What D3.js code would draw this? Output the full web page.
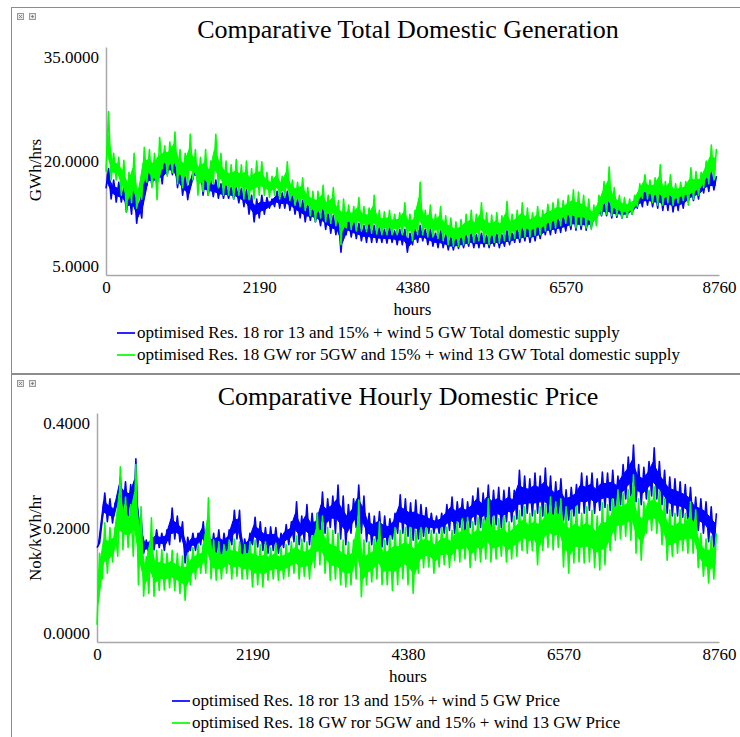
<!DOCTYPE html>
<html>
<head>
<meta charset="utf-8">
<script src="https://cdn.jsdelivr.net/npm/d3@7"></script>
<style>
  html, body { margin: 0; padding: 0; background: #fff; }
  svg { display: block; }
  text { font-family: "Liberation Serif", "Times New Roman", serif; fill: #000; }
</style>
</head>
<body>
<svg id="chart" width="740" height="737"></svg>
<script>
// The year is split into 120 windows of 73 hours; each series keeps the
// lowest and highest hourly value reached inside every window.
const windowHours = 73;
const xTicks = [0, 2190, 4380, 6570, 8760];

// Total domestic generation, GWh/hrs
const genTicks = [5, 20, 35];
const genLabels = ["5.0000", "20.0000", "35.0000"];

const genWind5High = [
  19.0,17.5,17.2,16.5,16.0,17.5,14.5,18.0,19.0,18.8, 20.0,20.5,20.4,20.0,19.0,18.0,17.5,19.9,19.5,18.2,
  17.5,17.5,17.0,16.8,16.5,16.5,16.4,16.2,15.5,15.0, 15.5,15.2,15.0,16.0,15.8,16.0,15.5,15.0,14.8,14.5,
  14.0,13.5,13.8,13.2,12.8,12.5,12.0,12.5,12.0,11.8, 11.5,11.8,11.5,11.2,11.0,11.2,10.8,11.0,11.0,10.5,
  11.0,11.5,11.0,11.0,10.5,10.8,10.3,10.0,10.0,10.0, 10.2,10.5,10.3,10.5,10.2,10.3,10.5,10.3,10.8,10.5,
  11.0,11.2,11.5,11.5,11.8,11.8,12.2,12.5,12.5,12.8, 13.0,13.5,13.5,13.2,13.0,13.5,14.2,14.5,14.8,14.5,
  14.2,14.0,14.5,14.8,15.5,16.5,16.2,16.0,16.5,16.0, 16.2,15.8,16.0,16.2,16.5,17.0,17.5,18.2,18.6,18.0
];
const genWind5Low = [
  16.4,15.0,14.6,14.6,13.3,13.0,11.8,12.5,16.8,16.8, 16.8,17.0,18.2,18.2,16.5,15.5,14.9,17.5,17.0,15.5,
  15.5,15.3,15.1,15.1,15.1,15.0,14.5,14.0,13.0,12.0, 12.5,13.0,13.8,14.0,13.8,13.8,13.5,13.0,12.5,12.0,
  12.2,12.0,11.5,11.0,10.5,10.3,8.0,10.3,10.0,9.8, 9.5,9.3,9.3,9.3,9.3,9.2,9.3,9.0,9.0,8.0,
  9.0,9.3,9.5,9.0,8.8,8.6,8.6,8.3,8.3,8.5, 8.6,8.8,8.6,8.6,8.7,8.6,8.8,8.6,8.8,9.0,
  9.3,9.3,9.5,9.3,9.5,9.8,10.3,10.3,10.5,10.6, 10.8,11.0,10.9,11.0,10.9,11.2,12.5,12.8,12.8,12.5,
  12.6,12.5,12.6,13.0,13.8,14.0,14.2,14.0,13.8,13.5, 13.5,13.3,13.5,13.8,14.6,14.8,15.0,15.8,16.0,16.2
];
const genWind13High = [
  26.5,21.0,20.5,20.1,18.5,21.0,16.5,21.8,21.5,21.0, 23.1,22.0,22.5,23.8,21.5,21.0,23.5,21.5,20.5,21.5,
  20.0,23.5,21.0,20.0,19.5,20.2,19.5,20.0,19.0,20.0, 19.9,18.5,18.0,19.1,18.0,19.9,17.5,17.2,17.8,16.5,
  16.0,16.0,16.8,15.5,16.5,14.8,15.0,14.2,14.0,15.2, 14.0,13.8,15.5,13.5,13.3,13.5,13.0,13.2,14.5,13.0,
  13.5,17.2,13.5,14.2,13.0,14.0,12.8,12.5,12.0,12.3, 13.0,13.5,13.0,14.5,13.2,12.9,13.2,12.8,14.7,13.0,
  13.5,14.5,13.8,13.2,14.0,13.5,14.3,14.5,15.0,14.8, 15.5,16.2,15.9,15.5,15.0,14.2,15.5,17.3,19.2,16.5,
  15.5,15.2,15.0,15.5,17.0,18.2,17.5,17.8,19.5,17.3, 18.2,17.0,17.2,17.3,19.1,18.6,18.5,20.0,22.1,21.6
];
const genWind13Low = [
  18.6,17.5,17.5,15.5,13.3,14.5,13.8,15.0,17.2,16.5, 14.9,19.0,18.0,18.5,17.0,16.5,16.8,17.5,15.5,16.0,
  15.5,17.0,16.5,15.5,15.5,15.0,15.5,15.0,14.9,15.0, 15.5,15.5,15.2,15.5,15.0,15.2,14.8,14.2,14.0,13.5,
  12.8,12.0,12.5,12.0,11.8,11.5,9.0,11.2,11.0,10.8, 10.8,10.7,10.5,10.4,10.3,10.3,10.3,10.3,10.3,10.0,
  9.5,10.3,10.3,10.0,10.0,9.8,9.5,9.0,8.8,8.8, 9.0,9.2,9.3,9.5,9.3,9.0,9.3,9.2,9.5,9.5,
  9.8,9.8,10.0,10.0,10.2,10.3,10.8,11.0,11.2,11.5, 11.8,11.5,11.2,11.5,11.2,11.0,11.5,12.9,13.0,12.8,
  12.8,12.5,12.6,13.0,14.0,15.1,15.0,14.5,14.2,14.2, 14.5,14.2,14.5,14.8,14.2,15.0,15.5,16.5,17.0,17.5
];

// Hourly domestic price, Nok/kWh/hr
const priceTicks = [0, 0.2, 0.4];
const priceLabels = ["0.0000", "0.2000", "0.4000"];

const priceWind5High = [
  0.173,0.26,0.25,0.243,0.288,0.28,0.275,0.32,0.22,0.178, 0.185,0.196,0.19,0.196,0.234,0.22,0.21,0.183,0.19,0.19,
  0.21,0.196,0.19,0.196,0.19,0.196,0.23,0.23,0.18,0.19, 0.218,0.21,0.2,0.201,0.2,0.19,0.205,0.21,0.245,0.22,
  0.24,0.225,0.225,0.262,0.25,0.255,0.274,0.255,0.24,0.25, 0.274,0.255,0.225,0.22,0.228,0.22,0.215,0.225,0.257,0.25,
  0.243,0.248,0.24,0.235,0.225,0.22,0.225,0.24,0.253,0.245, 0.25,0.245,0.255,0.269,0.26,0.274,0.265,0.27,0.265,0.27,
  0.265,0.3,0.29,0.285,0.295,0.29,0.304,0.29,0.28,0.285, 0.266,0.27,0.275,0.295,0.29,0.295,0.285,0.297,0.295,0.3,
  0.29,0.31,0.323,0.344,0.31,0.305,0.315,0.339,0.315,0.3, 0.288,0.285,0.28,0.275,0.27,0.253,0.25,0.245,0.236,0.225
];
const priceWind5Low = [
  0.165,0.213,0.21,0.208,0.24,0.225,0.22,0.2,0.17,0.155, 0.155,0.161,0.165,0.16,0.17,0.18,0.175,0.138,0.16,0.16,
  0.17,0.155,0.15,0.152,0.149,0.155,0.17,0.18,0.14,0.15, 0.17,0.166,0.16,0.155,0.16,0.155,0.165,0.17,0.175,0.17,
  0.175,0.17,0.175,0.19,0.19,0.2,0.19,0.18,0.17,0.19, 0.2,0.19,0.175,0.17,0.17,0.166,0.17,0.18,0.19,0.19,
  0.185,0.178,0.18,0.185,0.19,0.19,0.19,0.19,0.195,0.19, 0.2,0.195,0.2,0.205,0.2,0.205,0.2,0.205,0.2,0.21,
  0.21,0.215,0.22,0.225,0.22,0.225,0.22,0.22,0.215,0.22, 0.213,0.213,0.22,0.225,0.225,0.23,0.225,0.23,0.235,0.23,
  0.235,0.24,0.25,0.255,0.245,0.24,0.25,0.255,0.25,0.24, 0.225,0.22,0.22,0.218,0.21,0.2,0.195,0.19,0.175,0.166
];
const priceWind13High = [
  0.155,0.208,0.2,0.2,0.306,0.253,0.24,0.31,0.236,0.149, 0.217,0.16,0.161,0.155,0.16,0.155,0.15,0.155,0.165,0.17,
  0.17,0.252,0.178,0.175,0.17,0.178,0.18,0.175,0.17,0.175, 0.178,0.17,0.175,0.165,0.173,0.165,0.17,0.175,0.185,0.18,
  0.175,0.185,0.225,0.22,0.2,0.195,0.19,0.178,0.175,0.178, 0.248,0.178,0.175,0.18,0.21,0.178,0.185,0.2,0.195,0.2,
  0.2,0.195,0.2,0.2,0.195,0.19,0.2,0.201,0.195,0.21, 0.215,0.218,0.21,0.218,0.215,0.25,0.22,0.215,0.22,0.21,
  0.22,0.23,0.236,0.225,0.23,0.236,0.24,0.253,0.245,0.25, 0.236,0.23,0.236,0.225,0.236,0.23,0.22,0.243,0.24,0.25,
  0.266,0.26,0.266,0.292,0.25,0.245,0.265,0.271,0.265,0.25, 0.231,0.225,0.231,0.225,0.245,0.231,0.19,0.18,0.185,0.19
];
const priceWind13Low = [
  0.03,0.11,0.12,0.14,0.15,0.161,0.165,0.15,0.1,0.08, 0.085,0.08,0.09,0.091,0.095,0.09,0.085,0.073,0.1,0.11,
  0.12,0.12,0.11,0.108,0.11,0.12,0.11,0.115,0.11,0.11, 0.096,0.1,0.096,0.108,0.11,0.108,0.11,0.115,0.12,0.11,
  0.115,0.11,0.13,0.135,0.12,0.108,0.11,0.1,0.096,0.1, 0.11,0.079,0.1,0.105,0.11,0.1,0.1,0.09,0.1,0.11,
  0.1,0.085,0.12,0.13,0.131,0.12,0.131,0.135,0.13,0.143, 0.14,0.145,0.13,0.143,0.14,0.145,0.14,0.145,0.15,0.14,
  0.145,0.15,0.16,0.155,0.16,0.135,0.16,0.165,0.161,0.165, 0.131,0.12,0.138,0.14,0.138,0.14,0.13,0.126,0.135,0.16,
  0.178,0.18,0.185,0.178,0.155,0.143,0.19,0.195,0.19,0.17, 0.143,0.15,0.155,0.16,0.155,0.155,0.13,0.115,0.103,0.11
];

const blue = "#0000ff", green = "#00ff00", axisGrey = "#a8a8a8", frameGrey = "#8c8c8c";
const svg = d3.select("#chart");

// Each window is traced from its low up to its high, so the line sweeps the
// full hourly range the way a dense hourly trace does.
function sweep(low, high) {
  const pts = [];
  low.forEach((lo, k) => {
    pts.push([k * windowHours, lo]);
    pts.push([k * windowHours + windowHours / 2, high[k]]);
  });
  return pts;
}

function panel(cfg) {
  const g = svg.append("g");
  // frame and the two small window buttons
  g.append("rect").attr("x", 11.5).attr("y", cfg.top + 0.5).attr("width", 740).attr("height", cfg.frameH)
    .attr("fill", "none").attr("stroke", frameGrey);
  [17, 29].forEach((bx, k) => {
    g.append("rect").attr("x", bx + 0.5).attr("y", cfg.top + 6.5).attr("width", 6).attr("height", 6)
      .attr("fill", "#e6e6e6").attr("stroke", "#9a9a9a");
    g.append("path").attr("d", k === 0
        ? `M${bx + 2},${cfg.top + 8}L${bx + 5},${cfg.top + 11}M${bx + 5},${cfg.top + 8}L${bx + 2},${cfg.top + 11}`
        : `M${bx + 2},${cfg.top + 9.5}L${bx + 5},${cfg.top + 9.5}M${bx + 3.5},${cfg.top + 8}L${bx + 3.5},${cfg.top + 11}`)
      .attr("stroke", "#777").attr("stroke-width", 0.8);
  });

  g.append("text").attr("x", 408).attr("y", cfg.titleY).attr("text-anchor", "middle")
    .attr("font-size", 26).text(cfg.title);

  const x = d3.scaleLinear().domain([0, 8760]).range([cfg.x0, cfg.x1]);
  const y = d3.scaleLinear().domain(cfg.yDomain).range([cfg.y1, cfg.y0]);

  // axes: plain grey lines, no tick marks
  const xAxis = d3.axisBottom(x).tickValues(xTicks).tickSize(0).tickPadding(0).tickFormat(d3.format("d"));
  const xg = g.append("g").attr("transform", `translate(0,${cfg.y1})`).call(xAxis);
  xg.select(".domain").attr("stroke", axisGrey).attr("stroke-width", 1.5);
  xg.selectAll("text").attr("font-size", 17).attr("dy", null).attr("y", 18)
    .attr("font-family", "Liberation Serif").attr("fill", "#000");

  const yAxis = d3.axisLeft(y).tickValues(cfg.yTicks).tickSize(0).tickPadding(0)
    .tickFormat((d, i) => cfg.yLabels[i]);
  const yg = g.append("g").attr("transform", `translate(${cfg.x0},0)`).call(yAxis);
  yg.select(".domain").attr("stroke", axisGrey).attr("stroke-width", 1.5);
  yg.selectAll("text").attr("font-size", 17).attr("font-family", "Liberation Serif").attr("fill", "#000")
    .attr("x", -7)
    .attr("dy", (d, i) => i === 0 ? "-0.2em" : (i === cfg.yTicks.length - 1 ? "0.9em" : "0.35em"));

  g.append("text").attr("transform", `translate(${cfg.yTitleX},${cfg.yTitleY}) rotate(-90)`)
    .attr("text-anchor", "middle").attr("font-size", 17).text(cfg.yTitle);
  g.append("text").attr("x", x(4380)).attr("y", cfg.y1 + 40).attr("text-anchor", "middle")
    .attr("font-size", 17).text("hours");

  // the trace crosses the middle of each window's range many times within a
  // window, so that part is filled solid; the sweep line carries the extremes
  const core = d3.area()
    .x((d, k) => x(k * windowHours + windowHours / 4))
    .y0(d => y(d[0] + (d[1] - d[0]) * 0.3))
    .y1(d => y(d[1] - (d[1] - d[0]) * 0.3));
  const line = d3.line().x(d => x(d[0])).y(d => y(d[1]));
  cfg.series.forEach(s => {
    g.append("path").datum(d3.zip(s.low, s.high)).attr("d", core)
      .attr("fill", s.color).attr("stroke", s.color).attr("stroke-width", 1);
    g.append("path").datum(sweep(s.low, s.high)).attr("d", line).attr("fill", "none")
      .attr("stroke", s.color).attr("stroke-width", 1.6).attr("stroke-linejoin", "round");
  });

  // legend
  cfg.series.forEach((s, k) => {
    const ly = cfg.legendY + k * 22;
    g.append("line").attr("x1", cfg.legendX).attr("x2", cfg.legendX + 18)
      .attr("y1", ly - 5).attr("y2", ly - 5).attr("stroke", s.color).attr("stroke-width", 1.7);
    g.append("text").attr("x", cfg.legendX + 20).attr("y", ly).attr("font-size", 17).text(s.name);
  });
}

panel({
  top: 7, frameH: 366, title: "Comparative Total Domestic Generation", titleY: 38,
  x0: 106, x1: 719, y0: 47, y1: 275, yDomain: [5, 35], yTicks: genTicks, yLabels: genLabels,
  yTitle: "GWh/hrs", yTitleX: 41, yTitleY: 170,
  legendX: 117, legendY: 338,
  series: [
    { name: "optimised Res. 18 ror 13 and 15% + wind 5 GW Total domestic supply", color: blue,
      low: genWind5Low, high: genWind5High },
    { name: "optimised Res. 18 GW ror 5GW and 15% + wind 13 GW Total domestic supply", color: green,
      low: genWind13Low, high: genWind13High }
  ]
});

panel({
  top: 374, frameH: 400, title: "Comparative Hourly Domestic Price", titleY: 405,
  x0: 97, x1: 719, y0: 413, y1: 642, yDomain: [0, 0.4], yTicks: priceTicks, yLabels: priceLabels,
  yTitle: "Nok/kWh/hr", yTitleX: 41, yTitleY: 538,
  legendX: 172, legendY: 706,
  series: [
    { name: "optimised Res. 18 ror 13 and 15% + wind 5 GW Price", color: blue,
      low: priceWind5Low, high: priceWind5High },
    { name: "optimised Res. 18 GW ror 5GW and 15% + wind 13 GW Price", color: green,
      low: priceWind13Low, high: priceWind13High }
  ]
});
</script>
</body>
</html>
